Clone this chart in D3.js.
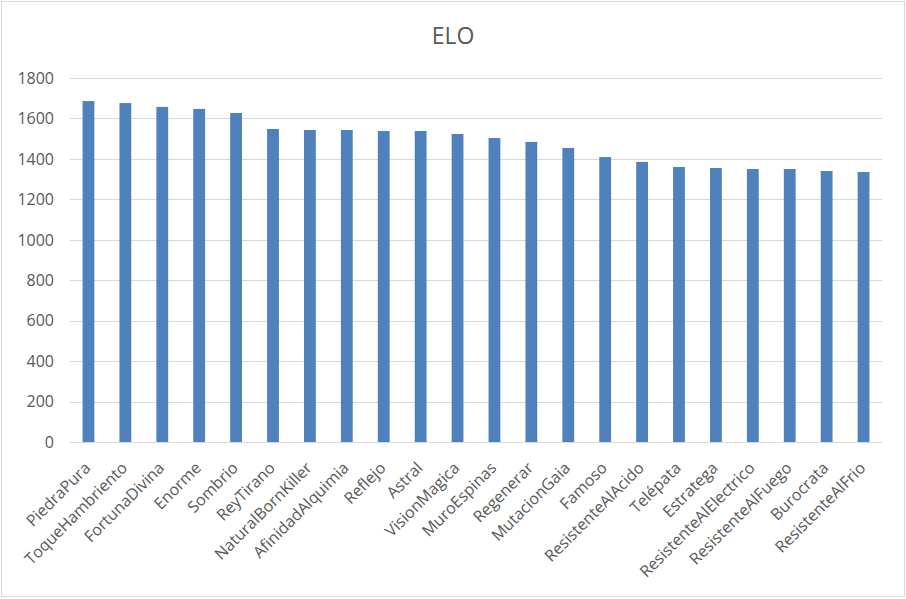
<!DOCTYPE html>
<html><head><meta charset="utf-8">
<script src="https://cdn.jsdelivr.net/npm/d3@7"></script>
<style>body{margin:0;background:#fff}svg{display:block}</style>
</head><body>
<script>
const categories = ["PiedraPura","ToqueHambriento","FortunaDivina","Enorme","Sombrio","ReyTirano","NaturalBornKiller","AfinidadAlquimia","Reflejo","Astral","VisionMagica","MuroEspinas","Regenerar","MutacionGaia","Famoso","ResistenteAlAcido","Telépata","Estratega","ResistenteAlElectrico","ResistenteAlFuego","Burocrata","ResistenteAlFrio"];
const values = [1686,1676,1657,1647,1627,1548,1543,1543,1538,1538,1523,1503,1484,1454,1409,1385,1360,1355,1350,1350,1340,1335];
const yTicks = [0,200,400,600,800,1000,1200,1400,1600,1800];
const title = "ELO";

const W = 906, H = 599;
const svg = d3.select("body").append("svg").attr("width", W).attr("height", H);
svg.append("rect").attr("x",1.5).attr("y",1.5).attr("width",W-3).attr("height",H-4)
  .attr("fill","#fff").attr("stroke","#d9d9d9");

const mLeft = 70, mRight = 882, mTop = 78, mBottom = 442;
const x = d3.scaleBand().domain(categories).range([mLeft, mRight]).paddingInner(0.68).paddingOuter(0.34);
const y = d3.scaleLinear().domain([0,1800]).range([mBottom, mTop]);
const font = "'Open Sans', 'Noto Sans', sans-serif";

svg.append("text").attr("x", 453).attr("y", 44).attr("text-anchor","middle")
  .attr("font-family", font).attr("font-size", 23).attr("fill","#595959").text(title);

svg.append("g").selectAll("line").data(yTicks).join("line")
  .attr("x1", mLeft).attr("x2", mRight).attr("y1", d=>Math.round(y(d))+0.5).attr("y2", d=>Math.round(y(d))+0.5)
  .attr("stroke","#d9d9d9").attr("stroke-width",1);

svg.append("g").selectAll("text").data(yTicks).join("text")
  .attr("x", 54).attr("y", d=>y(d)).attr("dy","0.36em").attr("text-anchor","end")
  .attr("font-family", font).attr("font-size", 16).attr("fill","#595959").text(d=>d);

svg.append("g").selectAll("rect").data(values).join("rect")
  .attr("x", (d,i)=>x(categories[i])).attr("width", x.bandwidth())
  .attr("y", d=>y(d)).attr("height", d=>y(0)-y(d)).attr("fill","#4f81bd");

svg.append("g").selectAll("text").data(categories).join("text")
  .attr("transform", d=>`translate(${x(d)+x.bandwidth()/2-1},${mBottom+23}) rotate(-45)`)
  .attr("text-anchor","end").attr("dy","0.35em")
  .attr("font-family", font).attr("font-size", 16).attr("fill","#595959").text(d=>d);
</script>
</body></html>
